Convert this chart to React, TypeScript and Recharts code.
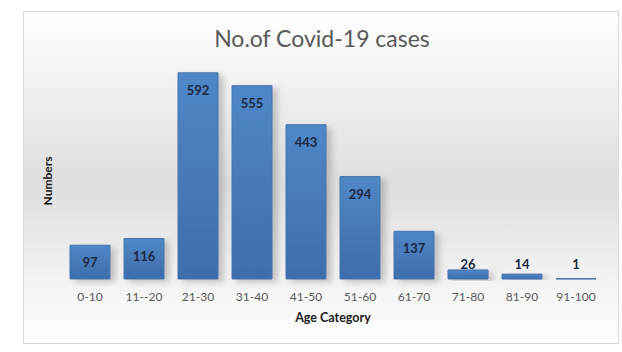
import React from "react";
import { BarChart, Bar, XAxis, YAxis, LabelList } from "recharts";

const ageGroups = ["0-10", "11--20", "21-30", "31-40", "41-50", "51-60", "61-70", "71-80", "81-90", "91-100"];
const cases = [97, 116, 592, 555, 443, 294, 137, 26, 14, 1];

const data = ageGroups.map((age, i) => ({ age, cases: cases[i] }));

const FONT = "Lato, 'Open Sans', sans-serif";

const renderValue = (props: any) => {
  const { x, y, width, height, value } = props;
  const base = y + height;
  const cy = Math.min(y + 17, base - 15);
  return (
    <text
      x={x + width / 2}
      y={cy}
      textAnchor="middle"
      dominantBaseline="central"
      fill="#1b2a44"
      fontSize={13}
      fontWeight={700}
      fontFamily={FONT}
    >
      {value}
    </text>
  );
};

export default function App() {
  return (
    <div style={{ position: "absolute", left: 0, top: 0, width: 622, height: 352, background: "#fff" }}>
      <div
        style={{
          position: "absolute",
          left: 23,
          top: 11,
          width: 594,
          height: 331,
          border: "1px solid #d9d9d9",
          background: "linear-gradient(to bottom, #ffffff 0%, #f4f4f4 18%, #dedede 52%, #f2f2f2 80%, #ffffff 100%)",
        }}
      />
      <div
        style={{
          position: "absolute",
          left: 0,
          width: 644,
          top: 24,
          textAlign: "center",
          fontFamily: FONT,
          fontSize: 23,
          color: "#595959",
          lineHeight: "28px",
        }}
      >
        No.of Covid-19 cases
      </div>
      <div
        style={{
          position: "absolute",
          left: 47,
          top: 181,
          transform: "translate(-50%, -50%) rotate(-90deg)",
          fontFamily: FONT,
          fontSize: 12,
          fontWeight: 700,
          color: "#1a1a1a",
          whiteSpace: "nowrap",
        }}
      >
        Numbers
      </div>
      <div style={{ position: "absolute", left: 0, top: 0 }}>
        <BarChart
          width={622}
          height={352}
          data={data}
          margin={{ top: 70, right: 19, left: 63, bottom: 43 }}
          barSize={40}
        >
          <defs>
            <linearGradient id="barFill" x1="0" y1="0" x2="0" y2="1">
              <stop offset="0%" stopColor="#5087c6" />
              <stop offset="100%" stopColor="#3e6dab" />
            </linearGradient>
            <filter id="barShadow" x="-20%" y="-20%" width="160%" height="140%">
              <feDropShadow dx="5" dy="3" stdDeviation="3" floodColor="#7a7a7a" floodOpacity="0.4" />
            </filter>
          </defs>
          <XAxis
            dataKey="age"
            height={30}
            axisLine={false}
            tickLine={false}
            tickMargin={7}
            interval={0}
            tick={{ fill: "#595959", fontSize: 12, fontFamily: FONT }}
            label={{
              value: "Age Category",
              position: "bottom",
              offset: 4,
              fill: "#1a1a1a",
              fontSize: 12.5,
              fontWeight: 700,
              fontFamily: FONT,
            }}
          />
          <YAxis hide domain={[0, 600]} />
          <Bar
            dataKey="cases"
            fill="url(#barFill)"
            stroke="#4775ad"
            strokeWidth={1}
            filter="url(#barShadow)"
            isAnimationActive={false}
          >
            <LabelList dataKey="cases" content={renderValue} />
          </Bar>
        </BarChart>
      </div>
    </div>
  );
}
